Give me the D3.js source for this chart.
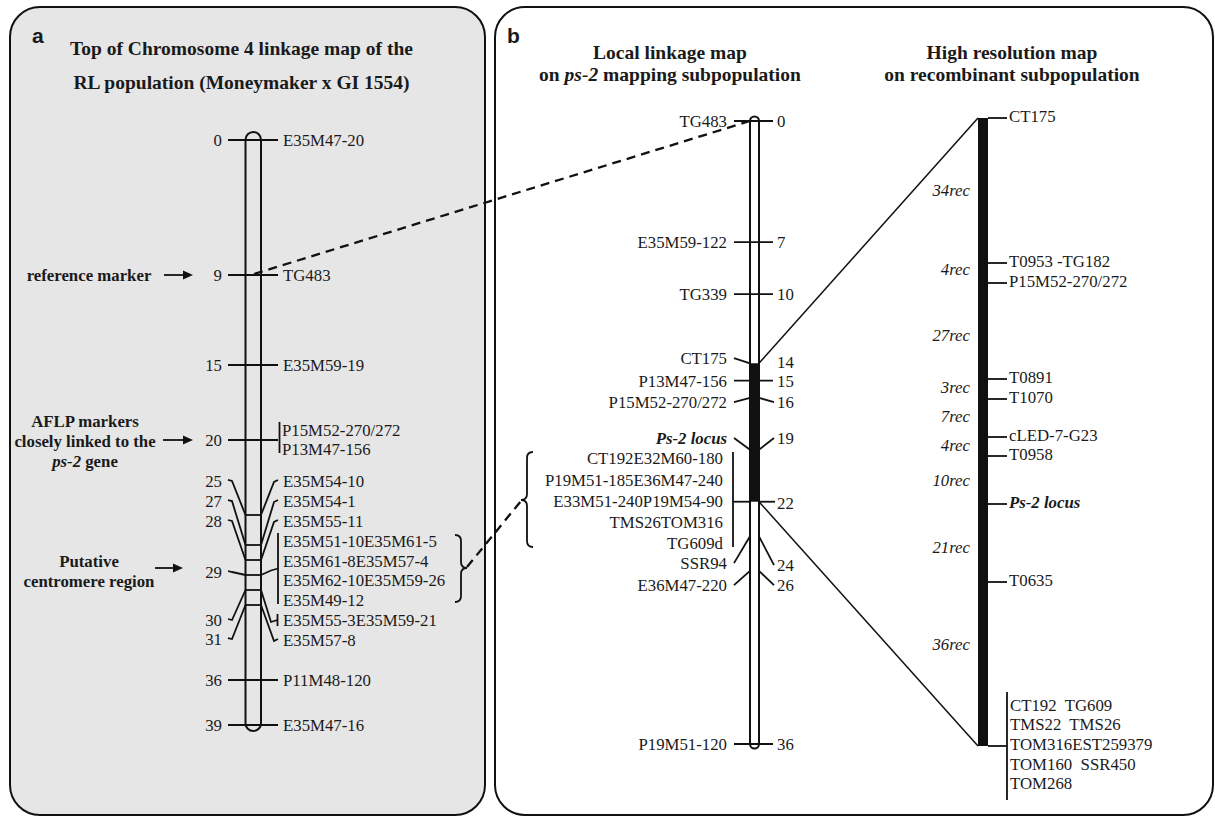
<!DOCTYPE html>
<html><head><meta charset="utf-8">
<script src="https://cdn.jsdelivr.net/npm/d3@7"></script>
<style>
body{margin:0;background:#fff;}
svg text{font-family:"Liberation Serif","Times New Roman",serif;fill:#1a1a1a;}
</style></head><body>
<svg id="c" width="1215" height="816"></svg>
<script>
// ---------- DATA ----------
// Panel a: chromosome 4 linkage map (cM)
const aMarkerCM = [0, 9, 15, 20, 25, 27, 28, 29, 30, 31, 36, 39];
const aMarkerLabels = [["E35M47-20"],["TG483"],["E35M59-19"],["P15M52-270/272","P13M47-156"],["E35M54-10"],["E35M54-1"],["E35M55-11"],
  ["E35M51-10E35M61-5","E35M61-8E35M57-4","E35M62-10E35M59-26","E35M49-12"],["E35M55-3E35M59-21"],["E35M57-8"],["P11M48-120"],["E35M47-16"]];
const aNumberLabels = ["0","9","15","20","25","27","28","29","30","31","36","39"];
// Panel b: local linkage map (cM)
const bMarkerCM = [0, 7, 10, 14, 15, 16, 19, 22, 24, 26, 36];
const bMarkerLabels = [["TG483"],["E35M59-122"],["TG339"],["CT175"],["P13M47-156"],["P15M52-270/272"],["Ps-2 locus"],
  ["CT192E32M60-180","P19M51-185E36M47-240","E33M51-240P19M54-90","TMS26TOM316","TG609d"],["SSR94"],["E36M47-220"],["P19M51-120"]];
const bNumberLabels = ["0","7","10","14","15","16","19","22","24","26","36"];
const bBlackFrom = 14, bBlackTo = 22;
// Panel b: high resolution map (map units)
const hrPos = [0, 145, 165, 261, 281, 319, 338, 386, 464, 628];
const hrMarkerLabels = [["CT175"],["T0953 -TG182"],["P15M52-270/272"],["T0891"],["T1070"],["cLED-7-G23"],["T0958"],["Ps-2 locus"],["T0635"],
  ["CT192  TG609","TMS22  TMS26","TOM316EST259379","TOM160  SSR450","TOM268"]];
const hrRecs = [34, 4, 27, 3, 7, 4, 10, 21, 36];

// ---------- LAYOUT (label slots, in each map's own units) ----------
const aLabelSlot = [[0],[9],[15],[19.33,20.6],[22.73],[24.07],[25.4],[26.73,28.07,29.33,30.67],[32],[33.33],[36],[39]];
const aNumberSlot = [0,9,15,20,22.73,24.07,25.4,28.8,32,33.27,36,39];
const bLabelSlot = [[0],[7],[10],[13.7],[15.05],[16.24],[18.32],[19.48,20.75,21.97,23.18,24.39],[25.55],[26.82],[36]];
const bNumberSlot = [0,7,10,13.93,15.05,16.24,18.32,22.1,25.66,26.82,36];
const hrRecSlot = [72,151,217,269,298,327,362,429,526];

const svg = d3.select("#c");
const line = d3.line();
const INK = "#111";
const FS = 16.8;

// ---------- PANELS ----------
svg.append("rect").attr("x",10).attr("y",7).attr("width",475).attr("height",808).attr("rx",30)
  .attr("fill","#e6e6e6").attr("stroke",INK).attr("stroke-width",2);
svg.append("rect").attr("x",495).attr("y",7).attr("width",718).attr("height",808).attr("rx",30)
  .attr("fill","#fff").attr("stroke",INK).attr("stroke-width",2);

function sans(x,y,t){svg.append("text").attr("x",x).attr("y",y).text(t)
  .style("font-family","'Liberation Sans',Arial,sans-serif").style("font-weight","bold").style("font-size","21px");}
sans(32,43,"a"); sans(507,43,"b");

function title(cx,y,parts){
  const t=svg.append("text").attr("x",cx).attr("y",y).attr("text-anchor","middle")
    .style("font-weight","bold").style("font-size","19.5px");
  parts.forEach(p=>t.append("tspan").text(p[0]).style("font-style",p[1]?"italic":"normal"));
}
title(241.5,55,[["Top of Chromosome 4 linkage map of the"]]);
title(241.5,89,[["RL population (Moneymaker x GI 1554)"]]);
title(670,59,[["Local linkage map"]]);
title(670,81,[["on "],["ps-2",true],[" mapping subpopulation"]]);
title(1012,59,[["High resolution map"]]);
title(1012,81,[["on recombinant subpopulation"]]);

function txt(x,y,t,anchor,opts={}){
  const e=svg.append("text").attr("x",x).attr("y",y).attr("dy","0.35em").attr("text-anchor",anchor||"start")
    .style("font-size",(opts.size||FS)+"px").style("white-space","pre").attr("xml:space","preserve").text(t);
  if(opts.bold) e.style("font-weight","bold");
  if(opts.italic) e.style("font-style","italic");
  return e;
}
function path(pts,w){svg.append("path").attr("d",line(pts)).attr("fill","none").attr("stroke",INK).attr("stroke-width",w||1.8);}

// ---------- PANEL A ----------
const yA = d3.scaleLinear().domain([0,39]).range([140,725]);
const aL = 245.5, aR = 261, aTickL = 228, aTickR = 278;
svg.append("rect").attr("x",aL).attr("y",yA(0)-8).attr("width",aR-aL).attr("height",yA(39)-yA(0)+14)
  .attr("rx",(aR-aL)/2).attr("fill","none").attr("stroke",INK).attr("stroke-width",2);
aMarkerCM.forEach((cm,i)=>{
  const ya=yA(cm), slots=aLabelSlot[i], labs=aMarkerLabels[i];
  const yn=yA(aNumberSlot[i]);
  txt(222,yn,aNumberLabels[i],"end");
  const flat = Math.abs(yn-ya)<1;
  if(flat){ path([[aTickL,ya],[aTickR,ya]]); }
  else {
    path([[aL,ya],[aR,ya]]);
    path([[aTickL,yn-1],[aTickL+4,yn],[aL,ya]]);
  }
  const ys=slots.map(s=>yA(s));
  if(labs.length>1 || i===8){
    const yMin=d3.min(ys)-(labs.length>1?8:6), yMax=d3.max(ys)+(labs.length>1?4:6);
    const xb = labs.length===4 ? 278 : (i===8?277.5:279.5);
    svg.append("line").attr("x1",xb).attr("x2",xb).attr("y1",yMin).attr("y2",yMax).attr("stroke",INK).attr("stroke-width",1.8);
    if(!flat){ const ym = labs.length===4 ? (yMin+yMax)/2 : d3.mean(ys); path([[aR,ya],[aR+10,ym+2],[xb,ym]]); }
  } else if(!flat){
    path([[aR,ya],[aTickR-4,ys[0]+1],[aTickR,ys[0]-1]]);
  }
  labs.forEach((l,j)=>txt(labs.length>1&&labs.length<4?282:283,ys[j],l,"start"));
});
// annotations with arrows
function arrow(x1,x2,y){
  svg.append("line").attr("x1",x1).attr("x2",x2-8).attr("y1",y).attr("y2",y).attr("stroke",INK).attr("stroke-width",1.8);
  svg.append("path").attr("d",`M${x2-10},${y-4.5}L${x2},${y}L${x2-10},${y+4.5}Z`).attr("fill",INK);
}
txt(89,275,"reference marker","middle",{bold:true});
arrow(164,193,yA(9));
txt(85,421,"AFLP markers","middle",{bold:true});
txt(85,441,"closely linked to the","middle",{bold:true});
{const t=txt(85,461,"","middle",{bold:true}); t.append("tspan").style("font-style","italic").text("ps-2"); t.append("tspan").text(" gene");}
arrow(163,193,yA(20));
txt(89,561,"Putative","middle",{bold:true});
txt(89,581,"centromere region","middle",{bold:true});
arrow(155,183,568);

// braces
function brace(xEnd,xSpine,xTip,y0,y1,ym){
  const r=6;
  svg.append("path").attr("d",`M${xEnd},${y0}Q${xSpine},${y0} ${xSpine},${y0+r}L${xSpine},${ym-r}Q${xSpine},${ym} ${xTip},${ym}Q${xSpine},${ym} ${xSpine},${ym+r}L${xSpine},${y1-r}Q${xSpine},${y1} ${xEnd},${y1}`)
    .attr("fill","none").attr("stroke",INK).attr("stroke-width",1.8);
}
brace(455,461,467,535,602,568);
brace(533,527,521,452,547,500);

// ---------- PANEL B: local map ----------
const yB = d3.scaleLinear().domain([0,36]).range([121,744]);
const bL=750, bR=759, bTickL=734, bTickR=773;
svg.append("rect").attr("x",bL).attr("y",yB(0)-4.5).attr("width",bR-bL).attr("height",yB(36)-yB(0)+9)
  .attr("rx",4.5).attr("fill","#fff").attr("stroke",INK).attr("stroke-width",2);
svg.append("rect").attr("x",bL).attr("y",yB(bBlackFrom)).attr("width",bR-bL).attr("height",yB(bBlackTo)-yB(bBlackFrom)).attr("fill",INK);
bMarkerCM.forEach((cm,i)=>{
  const ya=yB(cm), labs=bMarkerLabels[i], ys=bLabelSlot[i].map(s=>yB(s)), yn=yB(bNumberSlot[i]);
  txt(777,yn,bNumberLabels[i],"start");
  const isPs = labs[0]==="Ps-2 locus";
  if(labs.length>1){
    svg.append("line").attr("x1",733).attr("x2",733).attr("y1",d3.min(ys)-6).attr("y2",d3.max(ys)+4).attr("stroke",INK).attr("stroke-width",1.8);
    path([[733,ya],[bL,ya]]); path([[bR,ya],[bTickR+2,ya]]);
    labs.forEach((l,j)=>txt(723,ys[j],l,"end"));
  } else {
    const yl=ys[0];
    if(Math.abs(yl-ya)<1.5){ path([[bTickL,ya],[bTickR,ya]]); }
    else { path([[bTickL,yl],[bL,ya]]); }
    if(Math.abs(yn-ya)>1.5) path([[bR,ya],[bTickR+1,yn]]);
    txt(727,yl,labs[0],"end",{bold:isPs,italic:isPs});
  }
});

// ---------- PANEL B: high resolution map ----------
const yH = d3.scaleLinear().domain([0,628]).range([118,746]);
const hL=978, hR=988;
svg.append("rect").attr("x",hL).attr("y",yH(0)).attr("width",hR-hL).attr("height",yH(628)-yH(0)).attr("fill",INK);
hrPos.forEach((p,i)=>{
  const y=yH(p), labs=hrMarkerLabels[i];
  path([[hR,y],[1007,y]]);
  if(labs.length>1){
    svg.append("line").attr("x1",1007).attr("x2",1007).attr("y1",692).attr("y2",800).attr("stroke",INK).attr("stroke-width",1.8);
    labs.forEach((l,j)=>txt(1010,705+j*19.6,l,"start"));
  } else {
    const isPs = labs[0]==="Ps-2 locus";
    txt(1009,y-2,labs[0],"start",{bold:isPs,italic:isPs});
  }
});
hrRecs.forEach((r,i)=>txt(970,yH(hrRecSlot[i]),r+"rec","end",{italic:true}));

// ---------- connecting lines ----------
path([[bR,yB(bBlackFrom)],[hL,yH(0)]],1.5);
path([[bR,yB(bBlackTo)],[hL,yH(628)]],1.5);
svg.append("path").attr("d",line([[254,yA(9)-1],[bL,yB(0)]])).attr("fill","none").attr("stroke",INK).attr("stroke-width",2.3).attr("stroke-dasharray","9,6");
svg.append("path").attr("d",line([[467,567],[521,501]])).attr("fill","none").attr("stroke",INK).attr("stroke-width",2.3).attr("stroke-dasharray","9,6");
</script>
</body></html>
